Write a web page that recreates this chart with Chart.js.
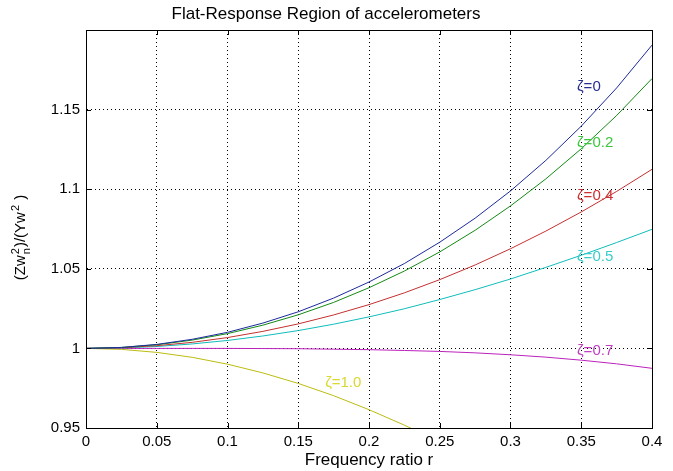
<!DOCTYPE html>
<html>
<head>
<meta charset="utf-8">
<title>Flat-Response Region of accelerometers</title>
<script src="https://cdn.jsdelivr.net/npm/chart.js@4.4.1/dist/chart.umd.min.js"></script>
<style>
  html, body { margin: 0; padding: 0; background: #fff; }
</style>
</head>
<body>
<canvas id="accelChart" width="673" height="471"></canvas>
<script>
'use strict';

// frequency ratio r (x values)
const freqRatio = [0, 0.025, 0.05, 0.075, 0.1, 0.125, 0.15, 0.175, 0.2,
  0.225, 0.25, 0.275, 0.3, 0.325, 0.35, 0.375, 0.4];

// amplitude ratio, one list per damping ratio
const zeta0  = [1, 1.0006, 1.0025, 1.0057, 1.0101, 1.0159, 1.0230, 1.0316, 1.0417,
  1.0533, 1.0667, 1.0818, 1.0989, 1.1181, 1.1396, 1.1636, 1.1905];
const zeta02 = [1, 1.0006, 1.0023, 1.0052, 1.0093, 1.0146, 1.0211, 1.0289, 1.0381,
  1.0486, 1.0606, 1.0742, 1.0895, 1.1065, 1.1254, 1.1463, 1.1695];
const zeta04 = [1, 1.0004, 1.0017, 1.0038, 1.0068, 1.0107, 1.0154, 1.0210, 1.0275,
  1.0349, 1.0432, 1.0524, 1.0626, 1.0737, 1.0857, 1.0986, 1.1125];
const zeta05 = [1, 1.0003, 1.0012, 1.0028, 1.0050, 1.0078, 1.0112, 1.0152, 1.0198,
  1.0249, 1.0307, 1.0369, 1.0436, 1.0509, 1.0585, 1.0665, 1.0748];
const zeta07 = [1, 1.0000, 1.0000, 1.0000, 1.0000, 0.9999, 0.9998, 0.9995, 0.9992,
  0.9987, 0.9981, 0.9972, 0.9960, 0.9945, 0.9926, 0.9903, 0.9875];
const zeta10 = [1, 0.9994, 0.9975, 0.9944, 0.9901, 0.9846, 0.9780, 0.9703, 0.9615,
  0.9518, 0.9412, null, null, null, null, null, null];

const seriesNames = ['ζ=0', 'ζ=0.2', 'ζ=0.4', 'ζ=0.5', 'ζ=0.7', 'ζ=1.0'];
const seriesData = [zeta0, zeta02, zeta04, zeta05, zeta07, zeta10];
const lineColors = ['#1c2a9c', '#138a13', '#c43030', '#10bcbc', '#bb22bb', '#bcbc10'];
const textColors = ['#25308f', '#3cc83c', '#cc3030', '#3ccccc', '#c040c0', '#d8d830'];

// where each curve's label sits (data coordinates)
const labelX = [0.347, 0.347, 0.347, 0.347, 0.347, 0.169];
const labelY = [1.164, 1.129, 1.0956, 1.0576, 0.9987, 0.9785];

const xTicks = [0, 0.05, 0.1, 0.15, 0.2, 0.25, 0.3, 0.35, 0.4];
const yTicks = [0.95, 1, 1.05, 1.1, 1.15, 1.2];

function fmt(v) {
  return String(Number(v.toFixed(2)));
}

const datasets = seriesData.map(function (vals, i) {
  return {
    label: seriesNames[i],
    data: freqRatio.map(function (r, j) { return { x: r, y: vals[j] }; }),
    borderColor: lineColors[i],
    backgroundColor: lineColors[i],
    borderWidth: 1,
    pointRadius: 0,
    tension: 0,
    fill: false
  };
});

// box, inward ticks, curve labels, y-axis label with sub/superscripts
const matlabLook = {
  id: 'matlabLook',
  afterDraw: function (chart) {
    const ctx = chart.ctx;
    const a = chart.chartArea;
    const xs = chart.scales.x;
    const ys = chart.scales.y;
    ctx.save();
    ctx.strokeStyle = '#000';
    ctx.lineWidth = 1;
    ctx.setLineDash([]);
    ctx.beginPath();
    xTicks.forEach(function (t) {
      const px = Math.round(xs.getPixelForValue(t)) + 0.5;
      ctx.moveTo(px, a.bottom); ctx.lineTo(px, a.bottom - 5);
      ctx.moveTo(px, a.top); ctx.lineTo(px, a.top + 5);
    });
    yTicks.forEach(function (t) {
      const py = Math.round(ys.getPixelForValue(t)) + 0.5;
      ctx.moveTo(a.left, py); ctx.lineTo(a.left + 5, py);
      ctx.moveTo(a.right, py); ctx.lineTo(a.right - 5, py);
    });
    ctx.stroke();
    ctx.strokeRect(Math.round(a.left) + 0.5, Math.round(a.top) + 0.5,
      Math.round(a.right - a.left), Math.round(a.bottom - a.top));

    // curve labels
    ctx.font = '15px "Liberation Sans", Arial, sans-serif';
    ctx.textBaseline = 'middle';
    ctx.textAlign = 'left';
    seriesNames.forEach(function (name, i) {
      ctx.fillStyle = textColors[i];
      ctx.fillText(name, xs.getPixelForValue(labelX[i]), ys.getPixelForValue(labelY[i]));
    });

    // y axis label: (Zw^2_n)/(Yw^2 )
    const big = '15px "Liberation Sans", Arial, sans-serif';
    const small = '11px "Liberation Sans", Arial, sans-serif';
    const parts = [
      { t: '(Zw', f: big, dy: 0 },
      { t: '2', f: small, dy: -6, stack: 'n' },
      { t: ')/(Yw', f: big, dy: 0 },
      { t: '2', f: small, dy: -6 },
      { t: ' )', f: big, dy: 0 }
    ];
    let total = 0;
    parts.forEach(function (p) { ctx.font = p.f; p.w = ctx.measureText(p.t).width + 1; total += p.w; });
    ctx.translate(20, (a.top + a.bottom) / 2 + 8);
    ctx.rotate(-Math.PI / 2);
    ctx.fillStyle = '#000';
    ctx.textAlign = 'left';
    ctx.textBaseline = 'alphabetic';
    let cx = -total / 2;
    parts.forEach(function (p) {
      ctx.font = p.f;
      ctx.fillText(p.t, cx, 5 + p.dy);
      if (p.stack) ctx.fillText(p.stack, cx, 10);
      cx += p.w;
    });
    ctx.restore();
  }
};

const accelChart = new Chart(document.getElementById('accelChart'), {
  type: 'line',
  data: { datasets: datasets },
  plugins: [matlabLook],
  options: {
    responsive: false,
    animation: false,
    layout: { padding: { left: 0, right: 21, top: 0, bottom: 0 } },
    plugins: {
      legend: { display: false },
      tooltip: { enabled: false },
      title: {
        display: true,
        text: 'Flat-Response Region of accelerometers',
        color: '#000',
        font: { family: '"Liberation Sans", Arial, sans-serif', size: 17, weight: 'normal' },
        padding: { top: 4, bottom: 5.6 }
      }
    },
    scales: {
      x: {
        type: 'linear',
        min: 0,
        max: 0.4,
        afterFit: function (s) { s.height = 43; },
        afterBuildTicks: function (s) { s.ticks = xTicks.map(function (v) { return { value: v }; }); },
        ticks: {
          color: '#000',
          padding: 5,
          maxRotation: 0,
          autoSkip: false,
          font: { family: '"Liberation Sans", Arial, sans-serif', size: 15 },
          callback: function (v) { return fmt(v); }
        },
        grid: { color: '#000', lineWidth: 1, drawTicks: false },
        border: { display: true, color: '#000', dash: [1, 3] },
        title: {
          display: true,
          text: 'Frequency ratio r',
          color: '#000',
          font: { family: '"Liberation Sans", Arial, sans-serif', size: 17 },
          padding: { top: 0, bottom: 0 }
        }
      },
      y: {
        type: 'linear',
        min: 0.95,
        max: 1.2,
        afterFit: function (s) { s.width = 86; },
        afterBuildTicks: function (s) { s.ticks = yTicks.map(function (v) { return { value: v }; }); },
        ticks: {
          color: '#000',
          padding: 6,
          autoSkip: false,
          font: { family: '"Liberation Sans", Arial, sans-serif', size: 15 },
          callback: function (v) { return v > 1.19 ? '' : fmt(v); }
        },
        grid: { color: '#000', lineWidth: 1, drawTicks: false },
        border: { display: true, color: '#000', dash: [1, 3] }
      }
    }
  }
});
</script>
</body>
</html>
